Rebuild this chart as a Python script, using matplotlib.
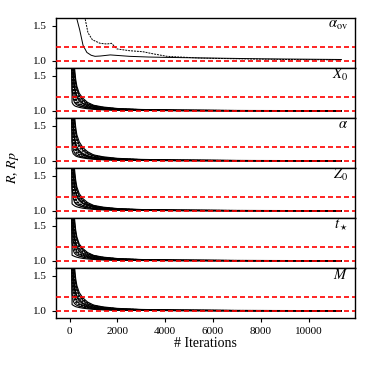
import matplotlib
matplotlib.use('Agg')
import matplotlib.pyplot as plt

plt.rcParams['font.family'] = ['Liberation Serif', 'DejaVu Serif']
plt.rcParams['mathtext.fontset'] = 'stix'
plt.rcParams['font.size'] = 8

iters = [0, 50, 100, 150, 200, 250, 300, 400, 550, 750, 1000, 1400, 2000, 3000, 4500, 7000, 11370]

# Top panel (alpha_ov): two chains, own sampling
ov_iters = [0, 150, 290, 420, 560, 720, 900, 1060, 1300, 1700, 2100, 2500, 3300, 4000, 6000, 8000, 11370]
ov_solid = [3.0, 2.0, 1.61, 1.44, 1.22, 1.12, 1.08, 1.065, 1.07, 1.085, 1.075, 1.065, 1.055, 1.05, 1.04, 1.03, 1.02]
ov_dash_iters = [0, 400, 640, 765, 950, 1270, 1560, 1750, 1980, 2500, 3070, 3500, 4070, 5450, 7000, 9000, 11370]
ov_dash = [4.0, 2.2, 1.61, 1.40, 1.30, 1.25, 1.24, 1.25, 1.17, 1.145, 1.13, 1.10, 1.065, 1.04, 1.03, 1.02, 1.015]

# Remaining panels: R and Rp curves for each parameter (one list per chain)
x0_curves = [
    [5.0, 3.0, 1.12, 1.09, 1.075, 1.065, 1.060, 1.050, 1.040, 1.030, 1.022, 1.015, 1.010, 1.006, 1.004, 1.002, 1.001],
    [6.0, 4.0, 2.50, 1.75, 1.50, 1.38, 1.30, 1.22, 1.16, 1.11, 1.075, 1.050, 1.030, 1.017, 1.009, 1.005, 1.003],
    [5.5, 3.5, 2.00, 1.50, 1.32, 1.24, 1.19, 1.14, 1.10, 1.07, 1.050, 1.033, 1.020, 1.012, 1.007, 1.004, 1.002],
    [4.5, 2.8, 1.60, 1.30, 1.20, 1.15, 1.12, 1.09, 1.07, 1.05, 1.036, 1.024, 1.015, 1.009, 1.005, 1.003, 1.002],
    [7.0, 4.5, 2.80, 2.00, 1.62, 1.45, 1.35, 1.25, 1.18, 1.12, 1.080, 1.055, 1.034, 1.020, 1.011, 1.006, 1.003],
    [5.0, 3.2, 1.80, 1.40, 1.26, 1.19, 1.15, 1.11, 1.08, 1.06, 1.043, 1.028, 1.018, 1.010, 1.006, 1.003, 1.002],
    [4.8, 2.5, 1.30, 1.17, 1.12, 1.10, 1.085, 1.07, 1.055, 1.04, 1.030, 1.020, 1.013, 1.008, 1.005, 1.003, 1.001],
    [6.5, 4.2, 2.30, 1.65, 1.42, 1.31, 1.25, 1.18, 1.13, 1.09, 1.063, 1.042, 1.026, 1.015, 1.008, 1.004, 1.002],
    [5.8, 3.8, 2.10, 1.55, 1.36, 1.27, 1.21, 1.16, 1.11, 1.08, 1.056, 1.037, 1.023, 1.013, 1.007, 1.004, 1.002],
    [4.2, 2.4, 1.45, 1.24, 1.16, 1.12, 1.10, 1.08, 1.06, 1.045, 1.032, 1.021, 1.013, 1.008, 1.005, 1.003, 1.001],
    [6.8, 4.0, 2.60, 1.85, 1.55, 1.40, 1.31, 1.21, 1.15, 1.10, 1.070, 1.047, 1.030, 1.017, 1.009, 1.005, 1.003],
    [5.2, 3.0, 1.70, 1.36, 1.24, 1.17, 1.13, 1.10, 1.075, 1.055, 1.040, 1.026, 1.016, 1.009, 1.005, 1.003, 1.002],
]
alpha_curves = [
    [5.0, 3.2, 1.15, 1.10, 1.085, 1.07, 1.062, 1.052, 1.042, 1.031, 1.023, 1.016, 1.010, 1.006, 1.004, 1.002, 1.001],
    [6.2, 4.1, 2.60, 1.80, 1.52, 1.40, 1.31, 1.23, 1.17, 1.12, 1.080, 1.052, 1.032, 1.018, 1.010, 1.005, 1.003],
    [5.4, 3.4, 1.95, 1.48, 1.31, 1.23, 1.18, 1.13, 1.095, 1.068, 1.048, 1.032, 1.020, 1.012, 1.007, 1.004, 1.002],
    [4.4, 2.7, 1.55, 1.28, 1.19, 1.145, 1.115, 1.088, 1.066, 1.048, 1.035, 1.023, 1.014, 1.008, 1.005, 1.003, 1.002],
    [7.2, 4.6, 2.90, 2.05, 1.66, 1.48, 1.37, 1.27, 1.19, 1.13, 1.085, 1.058, 1.036, 1.021, 1.012, 1.006, 1.003],
    [5.1, 3.3, 1.85, 1.42, 1.27, 1.20, 1.155, 1.115, 1.085, 1.062, 1.045, 1.030, 1.019, 1.011, 1.006, 1.003, 1.002],
    [4.7, 2.4, 1.28, 1.16, 1.115, 1.095, 1.08, 1.066, 1.052, 1.039, 1.029, 1.019, 1.012, 1.007, 1.004, 1.002, 1.001],
    [6.6, 4.3, 2.35, 1.68, 1.44, 1.33, 1.26, 1.19, 1.135, 1.095, 1.066, 1.044, 1.027, 1.016, 1.009, 1.005, 1.002],
    [5.7, 3.7, 2.05, 1.53, 1.35, 1.26, 1.20, 1.15, 1.105, 1.075, 1.053, 1.035, 1.022, 1.013, 1.007, 1.004, 1.002],
    [4.3, 2.5, 1.48, 1.25, 1.17, 1.13, 1.105, 1.082, 1.062, 1.046, 1.033, 1.022, 1.014, 1.008, 1.005, 1.003, 1.001],
    [6.9, 4.1, 2.65, 1.88, 1.57, 1.42, 1.32, 1.22, 1.155, 1.105, 1.072, 1.048, 1.030, 1.017, 1.009, 1.005, 1.003],
    [5.3, 3.1, 1.72, 1.37, 1.25, 1.18, 1.14, 1.105, 1.078, 1.057, 1.041, 1.027, 1.017, 1.010, 1.006, 1.003, 1.002],
]
z0_curves = [
    [5.0, 3.0, 1.10, 1.085, 1.072, 1.063, 1.057, 1.048, 1.038, 1.029, 1.021, 1.014, 1.009, 1.006, 1.004, 1.002, 1.001],
    [6.1, 4.0, 2.45, 1.72, 1.48, 1.37, 1.29, 1.21, 1.155, 1.105, 1.072, 1.048, 1.029, 1.016, 1.009, 1.005, 1.003],
    [5.6, 3.6, 2.05, 1.52, 1.33, 1.25, 1.195, 1.145, 1.10, 1.072, 1.051, 1.034, 1.021, 1.012, 1.007, 1.004, 1.002],
    [4.6, 2.9, 1.62, 1.31, 1.21, 1.155, 1.125, 1.095, 1.072, 1.052, 1.037, 1.025, 1.015, 1.009, 1.005, 1.003, 1.002],
    [7.0, 4.4, 2.75, 1.95, 1.60, 1.44, 1.34, 1.245, 1.175, 1.118, 1.078, 1.053, 1.033, 1.019, 1.011, 1.006, 1.003],
    [5.0, 3.1, 1.78, 1.39, 1.25, 1.185, 1.145, 1.105, 1.078, 1.058, 1.042, 1.027, 1.017, 1.010, 1.006, 1.003, 1.002],
    [4.9, 2.6, 1.32, 1.18, 1.125, 1.10, 1.088, 1.072, 1.056, 1.041, 1.031, 1.020, 1.013, 1.008, 1.005, 1.003, 1.001],
    [6.4, 4.1, 2.25, 1.62, 1.41, 1.30, 1.24, 1.175, 1.125, 1.088, 1.061, 1.041, 1.025, 1.014, 1.008, 1.004, 1.002],
    [5.9, 3.9, 2.15, 1.57, 1.37, 1.28, 1.215, 1.162, 1.112, 1.081, 1.057, 1.038, 1.024, 1.013, 1.007, 1.004, 1.002],
    [4.1, 2.3, 1.42, 1.23, 1.155, 1.118, 1.098, 1.078, 1.058, 1.044, 1.031, 1.020, 1.013, 1.008, 1.005, 1.003, 1.001],
    [6.7, 3.9, 2.55, 1.82, 1.53, 1.39, 1.30, 1.205, 1.145, 1.098, 1.068, 1.046, 1.029, 1.016, 1.009, 1.005, 1.003],
    [5.2, 3.0, 1.68, 1.35, 1.235, 1.165, 1.128, 1.098, 1.073, 1.054, 1.039, 1.025, 1.016, 1.009, 1.005, 1.003, 1.002],
]
tstar_curves = [
    [5.0, 2.8, 1.08, 1.072, 1.064, 1.058, 1.052, 1.044, 1.035, 1.027, 1.020, 1.013, 1.009, 1.005, 1.003, 1.002, 1.001],
    [6.0, 4.0, 2.50, 1.76, 1.50, 1.38, 1.30, 1.22, 1.16, 1.11, 1.075, 1.050, 1.030, 1.017, 1.009, 1.005, 1.003],
    [5.5, 3.5, 1.98, 1.49, 1.31, 1.235, 1.185, 1.135, 1.095, 1.068, 1.048, 1.032, 1.020, 1.012, 1.007, 1.004, 1.002],
    [4.5, 2.8, 1.58, 1.29, 1.195, 1.148, 1.118, 1.09, 1.069, 1.05, 1.036, 1.024, 1.015, 1.009, 1.005, 1.003, 1.002],
    [7.0, 4.5, 2.80, 2.00, 1.61, 1.44, 1.34, 1.24, 1.175, 1.118, 1.078, 1.053, 1.033, 1.019, 1.011, 1.006, 1.003],
    [5.0, 3.2, 1.80, 1.40, 1.26, 1.19, 1.15, 1.11, 1.08, 1.06, 1.043, 1.028, 1.018, 1.010, 1.006, 1.003, 1.002],
    [4.8, 2.5, 1.26, 1.15, 1.11, 1.092, 1.08, 1.066, 1.052, 1.039, 1.029, 1.019, 1.012, 1.007, 1.004, 1.002, 1.001],
    [6.5, 4.2, 2.30, 1.65, 1.42, 1.31, 1.25, 1.18, 1.13, 1.09, 1.063, 1.042, 1.026, 1.015, 1.008, 1.004, 1.002],
    [5.8, 3.8, 2.10, 1.55, 1.36, 1.27, 1.21, 1.16, 1.11, 1.08, 1.056, 1.037, 1.023, 1.013, 1.007, 1.004, 1.002],
    [4.2, 2.4, 1.45, 1.24, 1.16, 1.12, 1.10, 1.08, 1.06, 1.045, 1.032, 1.021, 1.013, 1.008, 1.005, 1.003, 1.001],
    [6.8, 4.0, 2.60, 1.85, 1.55, 1.40, 1.31, 1.21, 1.15, 1.10, 1.070, 1.047, 1.030, 1.017, 1.009, 1.005, 1.003],
    [5.2, 3.0, 1.70, 1.36, 1.24, 1.17, 1.13, 1.10, 1.075, 1.055, 1.040, 1.026, 1.016, 1.009, 1.005, 1.003, 1.002],
]
mass_curves = [
    [5.0, 3.1, 1.09, 1.078, 1.068, 1.06, 1.055, 1.047, 1.038, 1.029, 1.021, 1.014, 1.009, 1.006, 1.004, 1.002, 1.001],
    [6.2, 4.1, 2.55, 1.78, 1.51, 1.39, 1.305, 1.225, 1.165, 1.115, 1.078, 1.051, 1.031, 1.017, 1.010, 1.005, 1.003],
    [5.4, 3.4, 1.96, 1.49, 1.315, 1.24, 1.19, 1.14, 1.10, 1.07, 1.050, 1.033, 1.020, 1.012, 1.007, 1.004, 1.002],
    [4.4, 2.7, 1.57, 1.30, 1.20, 1.15, 1.12, 1.09, 1.07, 1.05, 1.036, 1.024, 1.015, 1.009, 1.005, 1.003, 1.002],
    [7.1, 4.6, 2.85, 2.02, 1.64, 1.46, 1.36, 1.26, 1.185, 1.125, 1.082, 1.056, 1.035, 1.020, 1.011, 1.006, 1.003],
    [5.0, 3.2, 1.82, 1.41, 1.265, 1.195, 1.152, 1.112, 1.082, 1.06, 1.044, 1.029, 1.018, 1.010, 1.006, 1.003, 1.002],
    [4.8, 2.5, 1.24, 1.14, 1.105, 1.09, 1.078, 1.065, 1.052, 1.039, 1.029, 1.019, 1.012, 1.007, 1.004, 1.002, 1.001],
    [6.5, 4.2, 2.32, 1.66, 1.43, 1.32, 1.255, 1.185, 1.132, 1.092, 1.064, 1.043, 1.026, 1.015, 1.008, 1.004, 1.002],
    [5.8, 3.8, 2.12, 1.56, 1.365, 1.275, 1.212, 1.16, 1.11, 1.08, 1.056, 1.037, 1.023, 1.013, 1.007, 1.004, 1.002],
    [4.2, 2.4, 1.44, 1.235, 1.16, 1.12, 1.10, 1.08, 1.06, 1.045, 1.032, 1.021, 1.013, 1.008, 1.005, 1.003, 1.001],
    [6.8, 4.0, 2.62, 1.86, 1.56, 1.41, 1.315, 1.215, 1.152, 1.102, 1.071, 1.048, 1.030, 1.017, 1.009, 1.005, 1.003],
    [5.2, 3.0, 1.71, 1.37, 1.245, 1.175, 1.135, 1.102, 1.076, 1.056, 1.040, 1.026, 1.016, 1.009, 1.005, 1.003, 1.002],
]

panel_labels = [r'$\alpha_{\rm ov}$', r'$X_0$', r'$\alpha$', r'$Z_0$', r'$t_\star$', r'$M$']
panel_curves = [None, x0_curves, alpha_curves, z0_curves, tstar_curves, mass_curves]
ref_levels = [1.0, 1.2]

fig, axes = plt.subplots(6, 1, figsize=(3.74, 3.74), dpi=100, sharex=True)
fig.subplots_adjust(left=0.150, right=0.949, top=0.952, bottom=0.150, hspace=0)

for i, ax in enumerate(axes):
    if i == 0:
        ax.plot(ov_iters, ov_solid, color='black', lw=0.7)
        ax.plot(ov_dash_iters, ov_dash, color='black', lw=0.7, ls='--', dashes=(2, 1))
    else:
        for j, vals in enumerate(panel_curves[i]):
            if j % 2 == 0:
                ax.plot(iters, vals, color='black', lw=0.8)
            else:
                ax.plot(iters, vals, color='black', lw=0.8, ls='--', dashes=(2, 1))
    for lev in ref_levels:
        ax.axhline(lev, color='red', lw=1.2, ls='--', dashes=(3, 1.8), zorder=5)
    ax.set_ylim(0.9, 1.61)
    ax.set_yticks([1.0, 1.5])
    ax.tick_params(labelsize=8, length=3, width=0.8)
    ax.text(0.977, 0.86, panel_labels[i], transform=ax.transAxes,
            ha='right', va='center', fontsize=10.5)
    for sp in ax.spines.values():
        sp.set_linewidth(1.0)

axes[-1].set_xticks([0, 2000, 4000, 6000, 8000, 10000])
axes[-1].set_xlabel('# Iterations', fontsize=10, labelpad=1)
fig.text(0.035, 0.551, r'$R$, $Rp$', rotation=90, ha='center', va='center', fontsize=10)

fig.savefig('out.png', dpi=100)
